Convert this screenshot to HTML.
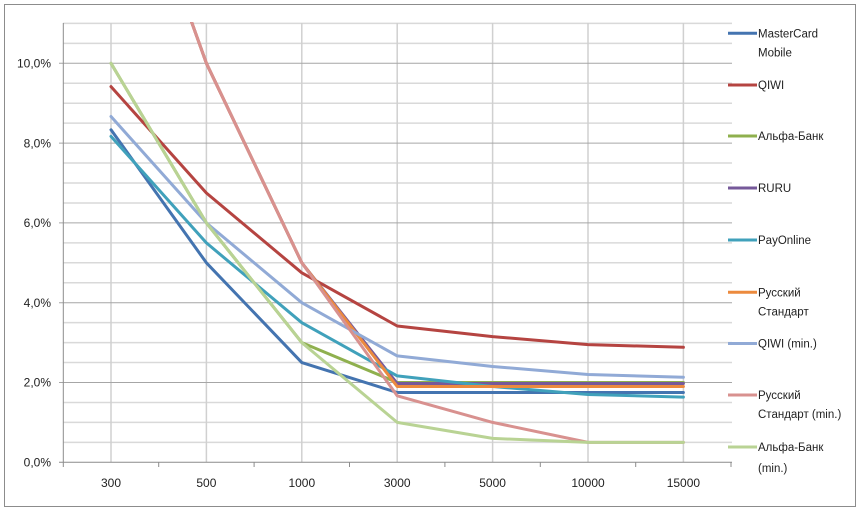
<!DOCTYPE html>
<html><head><meta charset="utf-8"><style>
html,body{margin:0;padding:0;background:#fff;}
svg{display:block;font-family:"Liberation Sans","DejaVu Sans",sans-serif;}
</style></head><body>
<svg width="860" height="510" viewBox="0 0 860 510" xmlns="http://www.w3.org/2000/svg">
<rect x="0" y="0" width="860" height="510" fill="#fff"/>
<rect x="4.5" y="4.5" width="851" height="502" fill="none" stroke="#8c8c8c" stroke-width="1"/>
<defs><clipPath id="pc"><rect x="63" y="22" width="670" height="442"/></clipPath></defs>
<!-- minor horizontal gridlines -->
<g stroke="#d9d9d9" stroke-width="1.5">
<line x1="63" x2="732" y1="442.35" y2="442.35"/>
<line x1="63" x2="732" y1="422.4" y2="422.4"/>
<line x1="63" x2="732" y1="402.45" y2="402.45"/>
<line x1="63" x2="732" y1="362.55" y2="362.55"/>
<line x1="63" x2="732" y1="342.6" y2="342.6"/>
<line x1="63" x2="732" y1="322.65" y2="322.65"/>
<line x1="63" x2="732" y1="282.75" y2="282.75"/>
<line x1="63" x2="732" y1="262.8" y2="262.8"/>
<line x1="63" x2="732" y1="242.85" y2="242.85"/>
<line x1="63" x2="732" y1="202.95" y2="202.95"/>
<line x1="63" x2="732" y1="183" y2="183"/>
<line x1="63" x2="732" y1="163.05" y2="163.05"/>
<line x1="63" x2="732" y1="123.15" y2="123.15"/>
<line x1="63" x2="732" y1="103.2" y2="103.2"/>
<line x1="63" x2="732" y1="83.25" y2="83.25"/>
<line x1="63" x2="732" y1="43.35" y2="43.35"/>
<line x1="63" x2="732" y1="23.4" y2="23.4"/>
</g>
<!-- vertical gridlines -->
<g stroke="#d0d0d0" stroke-width="1.5">
<line x1="111" x2="111" y1="23" y2="462"/>
<line x1="206.4" x2="206.4" y1="23" y2="462"/>
<line x1="301.8" x2="301.8" y1="23" y2="462"/>
<line x1="397.2" x2="397.2" y1="23" y2="462"/>
<line x1="492.6" x2="492.6" y1="23" y2="462"/>
<line x1="588" x2="588" y1="23" y2="462"/>
<line x1="683.4" x2="683.4" y1="23" y2="462"/>
</g>
<!-- major horizontal gridlines -->
<g stroke="#a6a6a6" stroke-width="1">
<line x1="59" x2="732" y1="382.5" y2="382.5"/>
<line x1="59" x2="732" y1="302.7" y2="302.7"/>
<line x1="59" x2="732" y1="222.9" y2="222.9"/>
<line x1="59" x2="732" y1="143.1" y2="143.1"/>
<line x1="59" x2="732" y1="63.3" y2="63.3"/>
</g>
<!-- axes -->
<g stroke="#8c8c8c" stroke-width="1">
<line x1="63.3" x2="63.3" y1="23" y2="462.3"/>
<line x1="59" x2="732" y1="462.3" y2="462.3"/>
<line x1="63.3" x2="63.3" y1="462" y2="467"/>
<line x1="158.7" x2="158.7" y1="462" y2="467"/>
<line x1="254.1" x2="254.1" y1="462" y2="467"/>
<line x1="349.5" x2="349.5" y1="462" y2="467"/>
<line x1="444.9" x2="444.9" y1="462" y2="467"/>
<line x1="540.3" x2="540.3" y1="462" y2="467"/>
<line x1="635.7" x2="635.7" y1="462" y2="467"/>
<line x1="731" x2="731" y1="462" y2="467"/>
</g>
<!-- y labels -->
<g font-size="12" fill="#222" text-anchor="end">
<text x="51" y="466.5">0,0%</text>
<text x="51" y="386.7">2,0%</text>
<text x="51" y="306.9">4,0%</text>
<text x="51" y="227.1">6,0%</text>
<text x="51" y="147.3">8,0%</text>
<text x="51" y="67.5">10,0%</text>
</g>
<!-- x labels -->
<g font-size="12" fill="#222" text-anchor="middle">
<text x="111" y="487">300</text>
<text x="206.4" y="487">500</text>
<text x="301.8" y="487">1000</text>
<text x="397.2" y="487">3000</text>
<text x="492.6" y="487">5000</text>
<text x="588" y="487">10000</text>
<text x="683.4" y="487">15000</text>
</g>
<!-- series -->
<g clip-path="url(#pc)" fill="none" stroke-width="3" stroke-linejoin="round" stroke-linecap="round">
<polyline stroke="#4474b0" points="111,129.8 206.4,262.8 301.8,362.55 397.2,392.5 492.6,392.5 588,392.5 683.4,392.5"/>
<polyline stroke="#b54441" points="111,86.6 206.4,193 301.8,272.8 397.2,326 492.6,336.6 588,344.6 683.4,347.3"/>
<polyline stroke="#8fb04e" points="111,63.3 206.4,222.9 301.8,342.6 397.2,382.5 492.6,382.5 588,382.5 683.4,382.5"/>
<polyline stroke="#76599a" points="111,-202.8 206.4,63.3 301.8,262.8 397.2,383.5 492.6,383.5 588,383.5 683.4,383.5"/>
<polyline stroke="#40a1bb" points="111,136.4 206.4,242.9 301.8,322.7 397.2,375.9 492.6,386.5 588,394.5 683.4,397.1"/>
<polyline stroke="#ec8a3e" points="111,-202.8 206.4,63.3 301.8,262.8 397.2,386.5 492.6,386.5 588,386.5 683.4,386.5"/>
<polyline stroke="#91aad6" points="111,116.5 206.4,222.9 301.8,302.7 397.2,355.9 492.6,366.5 588,374.5 683.4,377.2"/>
<polyline stroke="#d8918f" points="111,-202.8 206.4,63.3 301.8,262.8 397.2,395.8 492.6,422.4 588,442.35 683.4,442.35"/>
<polyline stroke="#b9d394" points="111,63.3 206.4,222.9 301.8,342.6 397.2,422.4 492.6,438.4 588,442.35 683.4,442.35"/>
</g>
<!-- legend -->
<g stroke-width="3">
<line x1="728" x2="757" y1="33.3" y2="33.3" stroke="#4474b0"/>
<line x1="728" x2="757" y1="85" y2="85" stroke="#b54441"/>
<line x1="728" x2="757" y1="136" y2="136" stroke="#8fb04e"/>
<line x1="728" x2="757" y1="188" y2="188" stroke="#76599a"/>
<line x1="728" x2="757" y1="240" y2="240" stroke="#40a1bb"/>
<line x1="728" x2="757" y1="292.3" y2="292.3" stroke="#ec8a3e"/>
<line x1="728" x2="757" y1="343.5" y2="343.5" stroke="#91aad6"/>
<line x1="728" x2="757" y1="395" y2="395" stroke="#d8918f"/>
<line x1="728" x2="757" y1="447" y2="447" stroke="#b9d394"/>
</g>
<g font-size="11.5" fill="#222">
<text x="758" y="37.5">MasterCard</text>
<text x="758" y="56.5">Mobile</text>
<text x="758" y="89">QIWI</text>
<text x="758" y="140">Альфа-Банк</text>
<text x="758" y="192">RURU</text>
<text x="758" y="244">PayOnline</text>
<text x="758" y="296.5">Русский</text>
<text x="758" y="315.5">Стандарт</text>
<text x="758" y="347.5">QIWI (min.)</text>
<text x="758" y="399">Русский</text>
<text x="758" y="418">Стандарт (min.)</text>
<text x="758" y="451">Альфа-Банк</text>
<text x="758" y="472">(min.)</text>
</g>
</svg>
</body></html>
